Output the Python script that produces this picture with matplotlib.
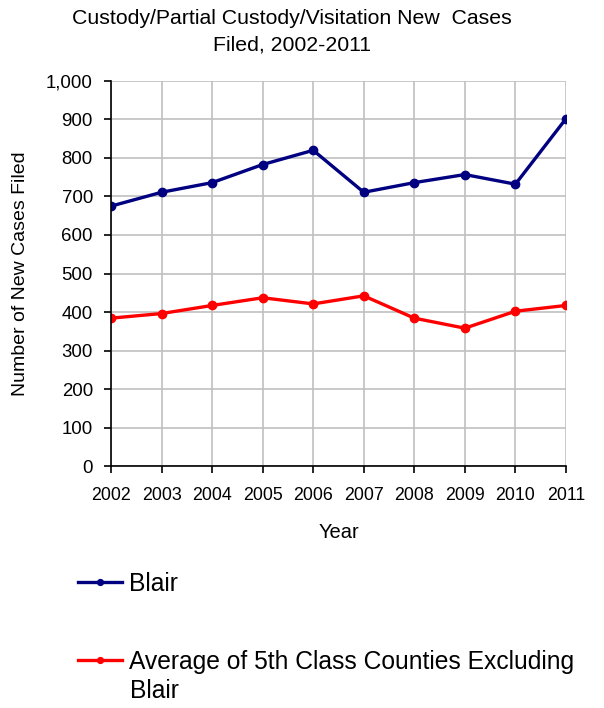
import matplotlib
matplotlib.use("Agg")
import matplotlib.pyplot as plt
from matplotlib.ticker import FuncFormatter

plt.rcParams['font.family'] = ['Liberation Sans', 'DejaVu Sans']

years = [2002, 2003, 2004, 2005, 2006, 2007, 2008, 2009, 2010, 2011]
blair = [675, 711, 736, 783, 820, 711, 736, 757, 732, 902]
avg_5th = [384, 396, 417, 437, 421, 442, 384, 358, 402, 417]

fig = plt.figure(figsize=(6.04, 7.08), dpi=100)
ax = fig.add_axes([0.1838, 0.3418, 0.7532, 0.5438])

l1, = ax.plot(years, blair, color='#000080', lw=2.4, marker='o', ms=6, label='Blair')
l2, = ax.plot(years, avg_5th, color='#ff0000', lw=2.4, marker='o', ms=6,
              label='Average of 5th Class Counties Excluding')

ax.set_xlim(2002, 2011)
ax.set_ylim(0, 1000)
ax.set_xticks(years)
ax.set_yticks(range(0, 1001, 100))
ax.yaxis.set_major_formatter(FuncFormatter(lambda v, p: f'{int(v):,}'))
ax.grid(True, color='#c0c0c0', lw=1.2)
ax.set_axisbelow(True)
for s in ['top', 'right']:
    ax.spines[s].set_visible(False)
for s in ['left', 'bottom']:
    ax.spines[s].set_linewidth(1.2)
ax.tick_params(axis='y', labelsize=13.4, length=5, width=1.2, pad=8)
ax.tick_params(axis='x', labelsize=12.8, length=5, width=1.2, pad=10)
ax.set_xlabel('Year', fontsize=14.5, labelpad=14)
ax.set_ylabel('Number of New Cases Filed', fontsize=14, labelpad=12)

fig.text(292 / 604, 1 - 9 / 708, 'Custody/Partial Custody/Visitation New  Cases\nFiled, 2002-2011',
         ha='center', va='top', fontsize=15.3, linespacing=1.5)

fig.legend(handles=[l1], loc='center left', bbox_to_anchor=(78 / 604, 1 - 584 / 708),
           frameon=False, fontsize=17.7, handlelength=1.8, handletextpad=0.28,
           markerscale=0.7, borderpad=0, borderaxespad=0)
fig.legend(handles=[l2], loc='center left', bbox_to_anchor=(78 / 604, 1 - 662 / 708),
           frameon=False, fontsize=17.7, handlelength=1.8, handletextpad=0.28,
           markerscale=0.7, borderpad=0, borderaxespad=0)
fig.text(130 / 604, 1 - 691 / 708, 'Blair', ha='left', va='center', fontsize=17.7)

fig.savefig('out.png', dpi=100)
